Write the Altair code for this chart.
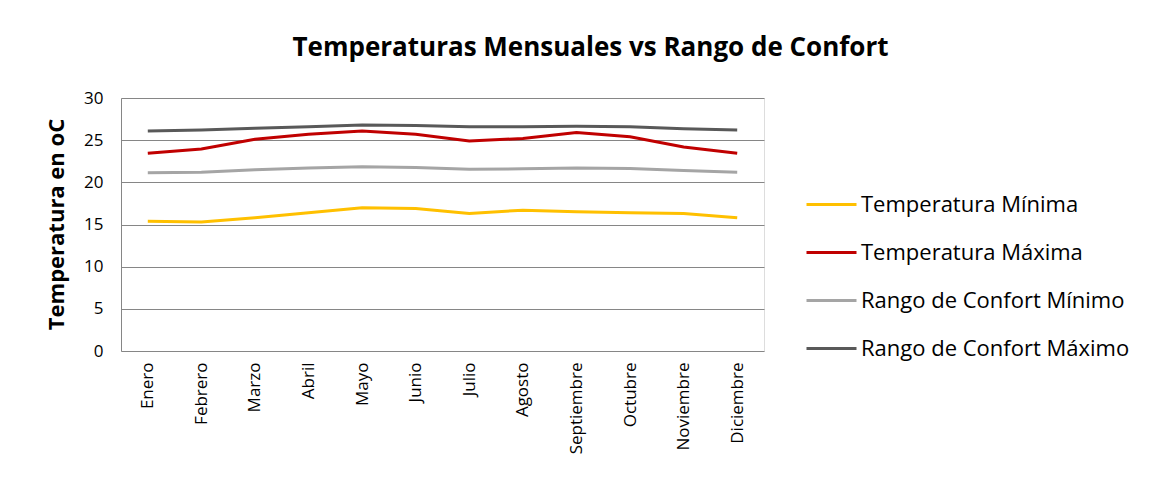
import altair as alt
import pandas as pd

meses = ["Enero", "Febrero", "Marzo", "Abril", "Mayo", "Junio", "Julio",
         "Agosto", "Septiembre", "Octubre", "Noviembre", "Diciembre"]
series = ["Temperatura Mínima", "Temperatura Máxima",
          "Rango de Confort Mínimo", "Rango de Confort Máximo"]
colores = ["#FFC000", "#C00000", "#A5A5A5", "#595959"]

temp_min = [15.4, 15.3, 15.8, 16.4, 17.0, 16.9, 16.3, 16.7, 16.5, 16.4, 16.3, 15.8]
temp_max = [23.45, 23.95, 25.1, 25.7, 26.1, 25.7, 24.9, 25.2, 25.9, 25.4, 24.2, 23.45]
conf_min = [21.15, 21.2, 21.5, 21.7, 21.85, 21.75, 21.55, 21.6, 21.7, 21.65, 21.4, 21.2]
conf_max = [26.1, 26.2, 26.4, 26.6, 26.8, 26.75, 26.6, 26.6, 26.65, 26.6, 26.35, 26.2]

rows = []
for name, vals in zip(series, [temp_min, temp_max, conf_min, conf_max]):
    for m, v in zip(meses, vals):
        rows.append({"Mes": m, "Serie": name, "Valor": v})
df = pd.DataFrame(rows)

FONT = "Open Sans"

chart = alt.Chart(df).mark_line(strokeWidth=3).encode(
    x=alt.X("Mes:N", sort=meses, scale=alt.Scale(padding=0.5),
            axis=alt.Axis(title=None, labelAngle=270, labelAlign="right",
                          labelBaseline="middle", labelFontSize=17,
                          labelPadding=11, ticks=False, domain=False,
                          labelColor="#000000", labelFont=FONT)),
    y=alt.Y("Valor:Q", scale=alt.Scale(domain=[0, 30], nice=False),
            axis=alt.Axis(title="Temperatura en oC", values=[0, 5, 10, 15, 20, 25, 30],
                          titleFontSize=22, titleFont=FONT, titleFontWeight="bold",
                          titleColor="#000000", titleAngle=270, titleX=-65,
                          titleY=126, titleAlign="center", titleBaseline="middle",
                          labelFontSize=17, labelFont=FONT, labelColor="#000000",
                          labelPadding=18, ticks=False, domain=True,
                          domainColor="#868686", gridColor="#868686",
                          gridWidth=1)),
    color=alt.Color("Serie:N", sort=series,
                    scale=alt.Scale(domain=series, range=colores),
                    legend=alt.Legend(title=None, orient="none", legendX=684,
                                      legendY=80, symbolType="stroke",
                                      symbolSize=2500, symbolStrokeWidth=3,
                                      labelFontSize=22, labelFont=FONT,
                                      labelColor="#000000", rowPadding=10,
                                      labelOffset=3, labelLimit=0)),
).properties(
    width=643,
    height=253,
    title=alt.TitleParams("Temperaturas Mensuales vs Rango de Confort",
                          font=FONT, fontSize=26, fontWeight="bold",
                          color="#000000", anchor="middle", dx=148, offset=28),
    autosize=alt.AutoSizeParams(type="none"),
    padding={"left": 113, "top": 90, "right": 392, "bottom": 120},
).configure_view(stroke=None).configure(background="#FFFFFF")

chart.save("out.html", embed_options={"renderer": "svg", "actions": False})
